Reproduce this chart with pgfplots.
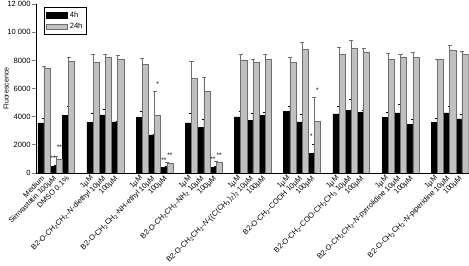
\documentclass[border=0pt]{standalone}
\usepackage{pgfplots}
\pgfplotsset{compat=1.18}
\usepackage{fontspec}
\setmainfont{Liberation Sans}
\definecolor{barGray}{RGB}{192,192,192}
\definecolor{edgeGray}{RGB}{110,110,110}

\newcommand{\sub}[1]{\textsubscript{#1}}

\begin{document}
\begin{tikzpicture}
\begin{axis}[
    scale only axis,
    width=426bp,
    height=166bp,
    xmin=-0.66, xmax=34.55,
    ymin=0, ymax=12000,
    axis lines*=left,
    axis line style={line width=0.6pt},
    tick align=outside,
    scaled y ticks=false,
    ytick={0,2000,4000,6000,8000,10000,12000},
    yticklabels={0,2000,4000,6000,8000,10\ 000,12\ 000},
    ytick style={line width=0.6pt},
    major tick length=3.5bp,
    xtick={0,1,2,4,5,6,8,9,10,12,13,14,16,17,18,20,21,22,24,25,26,28,29,30,32,33,34},
    xticklabels={
        Medium,
        Simvastatin 100µM,
        DMSO 0.1\%,
        1µM,
        B2-O-CH\sub{2}CH\sub{2}-\textit{N}-diethyl 10µM,
        100µM,
        1µM,
        B2-O-CH\sub{2}CH\sub{2}-NH-ethyl 10µM,
        100µM,
        1µM,
        B2-O-CH\sub{2}CH\sub{2}-NH\sub{2} 10µM,
        100µM,
        1µM,
        B2-O-CH\sub{2}CH\sub{2}-\textit{N}-((C(CH\sub{3})\sub{2})\sub{2} 10µM,
        100µM,
        1µM,
        B2-O-CH\sub{2}-COOH 10µM,
        100µM,
        1µM,
        B2-O-CH\sub{2}-COO-CH\sub{2}CH\sub{3} 10µM,
        100µM,
        1µM,
        B2-O-CH\sub{2}CH\sub{2}-\textit{N}-pyrrolidine 10µM,
        100µM,
        1µM,
        B2-O-CH\sub{2}CH\sub{2}-\textit{N}-piperidine 10µM,
        100µM},
    xtick style={draw=none},
    xticklabel style={rotate=45, anchor=east, inner sep=1bp, font=\fontsize{7.4}{8}\selectfont},
    yticklabel style={font=\fontsize{7.5}{9}\selectfont, inner sep=1.5bp},
    ylabel={Fluorescence},
    ylabel style={font=\fontsize{7}{8}\selectfont, at={(axis description cs:-0.069,0.5)}, anchor=center},
    legend style={at={(0.018,0.982)}, anchor=north west, draw=black, line width=0.5pt,
        font=\fontsize{7.5}{9}\selectfont, row sep=0.5bp, inner sep=2bp},
    legend cell align=left,
    error bars/y dir=plus,
    error bars/y explicit,
    error bars/error mark options={rotate=90, mark size=2bp},
]
\addplot[ybar, bar width=0.5, bar shift=-0.25, fill=black, draw=black, line width=0.4pt,
    error bars/error bar style={black, line width=0.5pt},
    legend image code/.code={\draw[fill=black, draw=black] (0bp,-2.6bp) rectangle (21bp,2.6bp);}]
coordinates {
    (0,3550) +- (0,360)
    (1,460) +- (0,100)
    (2,4085) +- (0,625)
    (4,3600) +- (0,630)
    (5,4130) +- (0,430)
    (6,3620) +- (0,70)
    (8,3960) +- (0,435)
    (9,2705) +- (0,35)
    (10,410) +- (0,60)
    (12,3550) +- (0,680)
    (13,3240) +- (0,550)
    (14,410) +- (0,60)
    (16,3985) +- (0,410)
    (17,3745) +- (0,505)
    (18,4105) +- (0,240)
    (20,4370) +- (0,365)
    (21,3620) +- (0,580)
    (22,1375) +- (0,680)
    (24,4200) +- (0,510)
    (25,4470) +- (0,745)
    (26,4320) +- (0,125)
    (28,3960) +- (0,385)
    (29,4275) +- (0,605)
    (30,3430) +- (0,360)
    (32,3575) +- (0,335)
    (33,4275) +- (0,435)
    (34,3840) +- (0,315)
};
\addlegendentry{4h}
\addplot[ybar, bar width=0.5, bar shift=0.25, fill=barGray, draw=edgeGray, line width=0.5pt,
    error bars/error bar style={edgeGray, line width=0.5pt},
    legend image code/.code={\draw[fill=barGray, draw=edgeGray] (0bp,-2.6bp) rectangle (21bp,2.6bp);}]
coordinates {
    (0,7415) +- (0,185)
    (1,940) +- (0,270)
    (2,7945) +- (0,265)
    (4,7870) +- (0,580)
    (5,8210) +- (0,220)
    (6,8110) +- (0,245)
    (8,7705) +- (0,435)
    (9,4085) +- (0,1695)
    (10,700) +- (0,80)
    (12,6710) +- (0,1235)
    (13,5790) +- (0,1020)
    (14,750) +- (0,60)
    (16,8040) +- (0,390)
    (17,7870) +- (0,240)
    (18,8065) +- (0,365)
    (20,7850) +- (0,360)
    (21,8810) +- (0,490)
    (22,3690) +- (0,1670)
    (24,8450) +- (0,485)
    (25,8860) +- (0,555)
    (26,8570) +- (0,335)
    (28,8065) +- (0,435)
    (29,8255) +- (0,215)
    (30,8210) +- (0,410)
    (32,8090) +- (0,30)
    (33,8720) +- (0,360)
    (34,8430) +- (0,260)
};
\addlegendentry{24h}
% significance marks
\addplot[forget plot, only marks, mark=none, point meta=explicit symbolic,
    nodes near coords, nodes near coords style={anchor=center, inner sep=0pt,
    font=\fontsize{6.5}{6.5}\selectfont}]
coordinates {
    (0.75,1060) [**]
    (1.25,1790) [**]
    (9.25,6280) [*]
    (9.75,900) [**]
    (10.25,1260) [**]
    (13.75,940) [**]
    (14.25,1290) [**]
    (21.75,2585) [*]
    (22.25,5890) [*]
};
\end{axis}
\end{tikzpicture}
\end{document}
